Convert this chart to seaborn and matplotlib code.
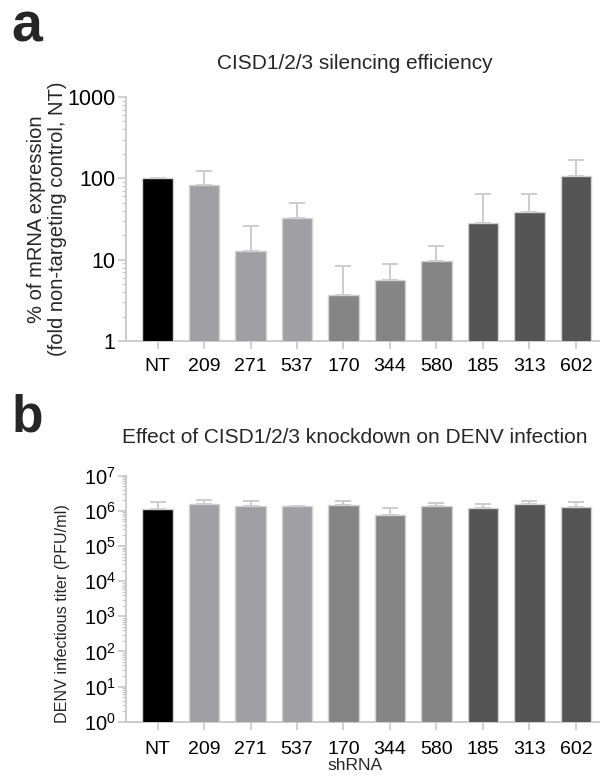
import matplotlib
matplotlib.use("Agg")
import matplotlib.pyplot as plt
import matplotlib.ticker as mticker
import seaborn as sns
import numpy as np
import pandas as pd

# ---- data ----
categories = ["NT", "209", "271", "537", "170", "344", "580", "185", "313", "602"]
bar_colors = ["#000000", "#a0a0a4", "#a0a0a4", "#a0a0a4",
              "#858585", "#858585", "#858585",
              "#555555", "#555555", "#555555"]

mrna_mean = [100, 82, 12.9, 32.3, 3.65, 5.6, 9.6, 28.5, 38.3, 108]
mrna_upper = [100, 123, 26.2, 50, 8.4, 8.9, 14.9, 63.7, 63.7, 170]

titer_mean = [1.1e6, 1.57e6, 1.4e6, 1.35e6, 1.5e6, 7.5e5, 1.38e6, 1.2e6, 1.6e6, 1.32e6]
titer_upper = [1.8e6, 2.1e6, 1.87e6, 1.35e6, 1.87e6, 1.17e6, 1.7e6, 1.6e6, 1.9e6, 1.74e6]

a_yticks = [1, 10, 100, 1000]
a_yticklabels = ["1", "10", "100", "1000"]
b_yticks = [1e0, 1e1, 1e2, 1e3, 1e4, 1e5, 1e6, 1e7]
b_yticklabels = [r"$10^{%d}$" % i for i in range(8)]

title_a = "CISD1/2/3 silencing efficiency"
title_b = "Effect of CISD1/2/3 knockdown on DENV infection"
ylabel_a = "% of mRNA expression\n(fold non-targeting control, NT)"
ylabel_b = "DENV infectious titer (PFU/ml)"
xlabel_b = "shRNA"

# ---- style ----
sns.set_theme(style="white")
FONT = ["Liberation Sans", "DejaVu Sans"]
plt.rcParams["font.family"] = FONT
plt.rcParams["mathtext.fontset"] = "custom"
plt.rcParams["mathtext.rm"] = "Liberation Sans"
plt.rcParams["mathtext.it"] = "Liberation Sans"
plt.rcParams["mathtext.bf"] = "Liberation Sans:bold"

axis_grey = "#c8c8c8"
edge_grey = "#d2d2d2"
err_grey = "#cccccc"

fig = plt.figure(figsize=(6.0, 7.8), dpi=100)
W, H = 600, 780

def make_ax(left, right, top, bottom):
    return fig.add_axes([left / W, 1 - bottom / H, (right - left) / W, (bottom - top) / H])

ax_a = make_ax(126, 600, 97, 341)
ax_b = make_ax(126, 600, 475.7, 721.7)

def draw(ax, means, uppers, ylim, yticks, yticklabels):
    df = pd.DataFrame({"shRNA": categories, "value": means})
    sns.barplot(data=df, x="shRNA", y="value", hue="shRNA", palette=bar_colors,
                order=categories, hue_order=categories, legend=False, ax=ax,
                width=0.66, edgecolor=edge_grey, linewidth=1.0, log_scale=True,
                errorbar=None, zorder=3)
    xs = np.arange(len(categories))
    m = np.array(means)
    u = np.array(uppers)
    ax.errorbar(xs, m, yerr=[np.zeros_like(m), u - m], fmt="none", ecolor=err_grey,
                elinewidth=1.4, capsize=5.5, capthick=1.4, zorder=2)
    ax.set_yscale("log")
    ax.set_ylim(*ylim)
    ax.set_xlim(-0.68, 9.52)
    ax.set_yticks(yticks)
    ax.set_yticklabels(yticklabels)
    ax.yaxis.set_minor_locator(mticker.LogLocator(base=10, subs=np.arange(2, 10), numticks=50))
    ax.yaxis.set_minor_formatter(mticker.NullFormatter())
    for s in ["top", "right"]:
        ax.spines[s].set_visible(False)
    for s in ["left", "bottom"]:
        ax.spines[s].set_color(axis_grey)
        ax.spines[s].set_linewidth(1.3)
    ax.tick_params(axis="both", which="major", color=axis_grey, width=1.2, length=6,
                   labelcolor="black", left=True, bottom=True, direction="out")
    ax.tick_params(axis="y", which="minor", color=axis_grey, width=0.9, length=3, left=True)
    ax.set_xlabel("")
    ax.set_ylabel("")

draw(ax_a, mrna_mean, mrna_upper, (1, 1000), a_yticks, a_yticklabels)
draw(ax_b, titer_mean, titer_upper, (1, 1e7), b_yticks, b_yticklabels)
ax_a.tick_params(axis="x", pad=6, labelsize=14)
ax_a.tick_params(axis="y", pad=1.5, labelsize=15.5)
ax_b.tick_params(axis="x", pad=8, labelsize=14)
ax_b.tick_params(axis="y", pad=1.5, labelsize=14.5)

ax_a.set_ylabel(ylabel_a, fontsize=14.5, linespacing=1.15)
ax_a.yaxis.set_label_coords(-0.124, 0.5)
ax_b.set_ylabel(ylabel_b, fontsize=11.6)
ax_b.yaxis.set_label_coords(-0.118, 0.438)

fig.text(355 / W, 1 - 770 / H, xlabel_b, ha="center", va="baseline", fontsize=12.5)
fig.text(355 / W, 1 - 69 / H, title_a, ha="center", va="baseline", fontsize=15)
fig.text(355 / W, 1 - 443 / H, title_b, ha="center", va="baseline", fontsize=15)
fig.text(11 / W, 1 - 41 / H, "a", ha="left", va="baseline", fontsize=40, fontweight="bold")
fig.text(12 / W, 1 - 432 / H, "b", ha="left", va="baseline", fontsize=37, fontweight="bold")

fig.savefig("out.png", dpi=100)
